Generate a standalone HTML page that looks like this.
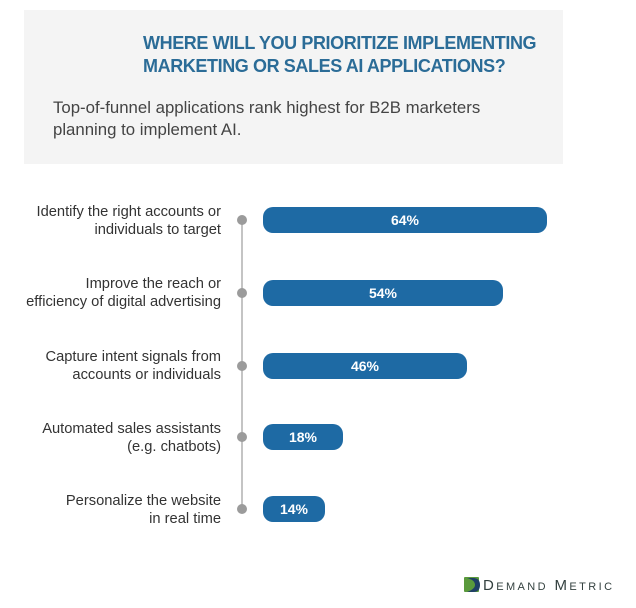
<!DOCTYPE html>
<html>
<head>
<meta charset="utf-8">
<style>
  html,body{margin:0;padding:0;background:#fff;}
  body{width:636px;height:608px;position:relative;overflow:hidden;font-family:"Liberation Sans",Arial,sans-serif;}
  .box{position:absolute;left:24px;top:10px;width:539px;height:154px;background:#f4f4f4;}
  .title{position:absolute;left:143px;top:31.5px;font-size:18px;line-height:23px;font-weight:bold;color:#2b6c97;letter-spacing:-0.4px;white-space:nowrap;}
  .sub{position:absolute;left:53px;top:96.5px;font-size:16.8px;line-height:22px;color:#444;white-space:nowrap;}
  .lab{position:absolute;right:415px;font-size:14.7px;line-height:18px;color:#333;text-align:right;white-space:nowrap;}
  .bar{position:absolute;left:263px;height:26px;border-radius:10px;background:#1e6aa4;color:#fff;font-weight:bold;font-size:14px;line-height:26px;text-align:center;}
  .vline{position:absolute;left:241px;top:220px;width:2px;height:289px;background:#c4c4c4;}
  .dot{position:absolute;left:237px;width:10px;height:10px;border-radius:50%;background:#9b9b9b;}
  .logo{position:absolute;left:483px;top:577px;font-size:15px;line-height:18px;font-variant:small-caps;letter-spacing:2.4px;color:#33403f;white-space:nowrap;}
</style>
</head>
<body>
  <div class="box"></div>
  <div class="title">WHERE WILL YOU PRIORITIZE IMPLEMENTING<br>MARKETING OR SALES AI APPLICATIONS?</div>
  <div class="sub">Top-of-funnel applications rank highest for B2B marketers<br>planning to implement AI.</div>

  <div class="vline"></div>

  <div class="lab" style="top:202.5px;">Identify the right accounts or<br>individuals to target</div>
  <div class="dot" style="top:215px;"></div>
  <div class="bar" style="top:207px;width:284px;">64%</div>

  <div class="lab" style="top:275px;">Improve the reach or<br>efficiency of digital advertising</div>
  <div class="dot" style="top:288px;"></div>
  <div class="bar" style="top:280px;width:240px;">54%</div>

  <div class="lab" style="top:348px;">Capture intent signals from<br>accounts or individuals</div>
  <div class="dot" style="top:361px;"></div>
  <div class="bar" style="top:353px;width:204px;">46%</div>

  <div class="lab" style="top:420px;">Automated sales assistants<br>(e.g. chatbots)</div>
  <div class="dot" style="top:432px;"></div>
  <div class="bar" style="top:424px;width:80px;">18%</div>

  <div class="lab" style="top:491.5px;">Personalize the website<br>in real time</div>
  <div class="dot" style="top:504px;"></div>
  <div class="bar" style="top:496px;width:62px;">14%</div>

  <svg style="position:absolute;left:464px;top:577px;" width="17" height="16" viewBox="0 0 17 16">
    <rect x="0" y="0" width="15" height="15" rx="1" fill="#5a9a3c"/>
    <path d="M3 1 L9 1 Q16 1 16 8 Q16 15 9 15 L3 15 Q11 12 11 8 Q11 3 3 1 Z" fill="#1f3f66"/>
  </svg>
  <div class="logo">Demand Metric</div>
</body>
</html>
